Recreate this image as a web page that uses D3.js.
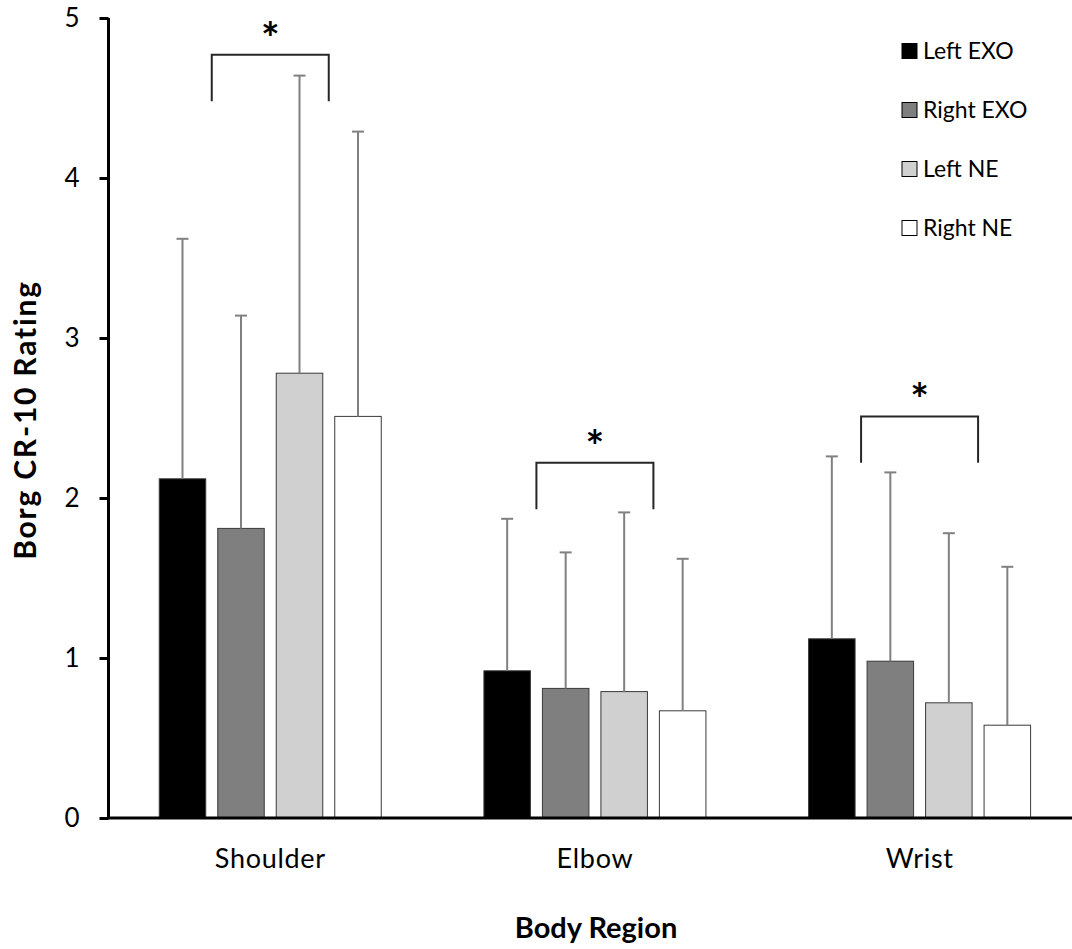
<!DOCTYPE html>
<html>
<head>
<meta charset="utf-8">
<script src="https://cdn.jsdelivr.net/npm/d3@7"></script>
<style>
  html, body { margin: 0; padding: 0; background: #fff; }
  svg { display: block; font-family: Lato, "Open Sans", sans-serif; }
</style>
</head>
<body>
<svg id="chart" width="1072" height="949"></svg>
<script>
// Body regions and conditions
const categories = ["Shoulder", "Elbow", "Wrist"];
const seriesNames = ["Left EXO", "Right EXO", "Left NE", "Right NE"];

// Mean Borg CR-10 ratings per region
const leftExo  = [2.12, 0.92, 1.12];
const rightExo = [1.81, 0.81, 0.98];
const leftNe   = [2.78, 0.79, 0.72];
const rightNe  = [2.51, 0.67, 0.58];

// Standard deviations (upper error bars)
const leftExoSD  = [1.50, 0.95, 1.14];
const rightExoSD = [1.33, 0.85, 1.18];
const leftNeSD   = [1.86, 1.12, 1.06];
const rightNeSD  = [1.78, 0.95, 0.99];

// Significance brackets (in rating units)
const bracketCategories = ["Shoulder", "Elbow", "Wrist"];
const bracketFrom = ["Right EXO", "Right EXO", "Right EXO"];
const bracketTo   = ["Right NE", "Right NE", "Right NE"];
const bracketTop    = [4.77, 2.22, 2.51];
const bracketBottom = [4.48, 1.93, 2.22];

const yTicks = [0, 1, 2, 3, 4, 5];

const means = [leftExo, rightExo, leftNe, rightNe];
const sds = [leftExoSD, rightExoSD, leftNeSD, rightNeSD];
const fills = ["#000000", "#7f7f7f", "#d0d0d0", "#ffffff"];

const svg = d3.select("#chart");

const x0 = d3.scaleBand().domain(categories).range([108, 1082]).padding(0);
const x1 = d3.scaleBand().domain(seriesNames)
  .range([45.25, 279.25]).paddingInner(0.205).paddingOuter(0.1025);
const y = d3.scaleLinear().domain([0, 5]).range([818, 18]);
const color = d3.scaleOrdinal().domain(seriesNames).range(fills);

const rows = [];
categories.forEach((c, ci) => {
  seriesNames.forEach((s, si) => {
    rows.push({ cat: c, series: s, mean: means[si][ci], sd: sds[si][ci] });
  });
});

// Bars
svg.append("g").selectAll("rect").data(rows).join("rect")
  .attr("x", d => x0(d.cat) + x1(d.series))
  .attr("y", d => y(d.mean))
  .attr("width", x1.bandwidth())
  .attr("height", d => y(0) - y(d.mean))
  .attr("fill", d => color(d.series))
  .attr("stroke", "#3a3a3a")
  .attr("stroke-width", 1);

// Upper error bars
const capHalf = 6;
const eb = svg.append("g").attr("stroke", "#808080").attr("stroke-width", 2);
eb.selectAll("line.v").data(rows).join("line").attr("class", "v")
  .attr("x1", d => x0(d.cat) + x1(d.series) + x1.bandwidth() / 2)
  .attr("x2", d => x0(d.cat) + x1(d.series) + x1.bandwidth() / 2)
  .attr("y1", d => y(d.mean))
  .attr("y2", d => y(d.mean + d.sd));
eb.selectAll("line.c").data(rows).join("line").attr("class", "c")
  .attr("x1", d => x0(d.cat) + x1(d.series) + x1.bandwidth() / 2 - capHalf)
  .attr("x2", d => x0(d.cat) + x1(d.series) + x1.bandwidth() / 2 + capHalf)
  .attr("y1", d => y(d.mean + d.sd))
  .attr("y2", d => y(d.mean + d.sd));

// Axes
const yAxis = d3.axisLeft(y).tickValues(yTicks).tickSize(9).tickPadding(20).tickFormat(d3.format("d"));
const gy = svg.append("g").attr("transform", "translate(108.5,0)").call(yAxis);
gy.select(".domain").attr("stroke", "#000").attr("stroke-width", 3).attr("d", `M0,${y(5)}V${y(0)}`);
gy.selectAll(".tick line").attr("stroke", "#000").attr("stroke-width", 3);
gy.selectAll(".tick text").attr("font-size", 26).attr("fill", "#000")
  .attr("font-family", "Lato, sans-serif");

const xAxis = d3.axisBottom(x0).tickSize(0).tickPadding(31);
const gx = svg.append("g").attr("transform", `translate(0,${y(0)})`).call(xAxis);
gx.select(".domain").attr("stroke", "#000").attr("stroke-width", 3).attr("d", "M107,0H1080");
gx.selectAll(".tick text").attr("font-size", 27).attr("fill", "#000")
  .attr("letter-spacing", 0.7)
  .attr("font-family", "Lato, sans-serif");

// Significance brackets
const gap = x1.step() - x1.bandwidth();
const gb = svg.append("g");
bracketCategories.forEach((c, i) => {
  const xa = x0(c) + x1(bracketFrom[i]) - gap / 2;
  const xb = x0(c) + x1(bracketTo[i]) - gap / 2;
  gb.append("path")
    .attr("d", `M${xa},${y(bracketBottom[i])}V${y(bracketTop[i])}H${xb}V${y(bracketBottom[i])}`)
    .attr("fill", "none").attr("stroke", "#262626").attr("stroke-width", 2);
  gb.append("text")
    .attr("x", (xa + xb) / 2)
    .attr("y", y(bracketTop[i]) - 1)
    .attr("text-anchor", "middle")
    .attr("font-size", 44).attr("font-weight", "bold")
    .text("*");
});

// Legend
const lg = svg.append("g").attr("transform", "translate(902,51)");
seriesNames.forEach((s, i) => {
  const row = lg.append("g").attr("transform", `translate(0,${i * 59})`);
  row.append("rect").attr("x", 0).attr("y", -7.5).attr("width", 15).attr("height", 15)
    .attr("fill", color(s)).attr("stroke", "#000").attr("stroke-width", 1);
  row.append("text").attr("x", 21).attr("y", 0).attr("dy", "0.35em")
    .attr("font-size", 23).text(s);
});

// Axis titles
svg.append("text")
  .attr("transform", "translate(36,420) rotate(-90)")
  .attr("text-anchor", "middle")
  .attr("font-size", 30).attr("font-weight", "bold")
  .attr("letter-spacing", 1.8)
  .text("Borg CR-10 Rating");

svg.append("text")
  .attr("x", 596).attr("y", 938)
  .attr("text-anchor", "middle")
  .attr("font-size", 29).attr("font-weight", "bold")
  .text("Body Region");
</script>
</body>
</html>
